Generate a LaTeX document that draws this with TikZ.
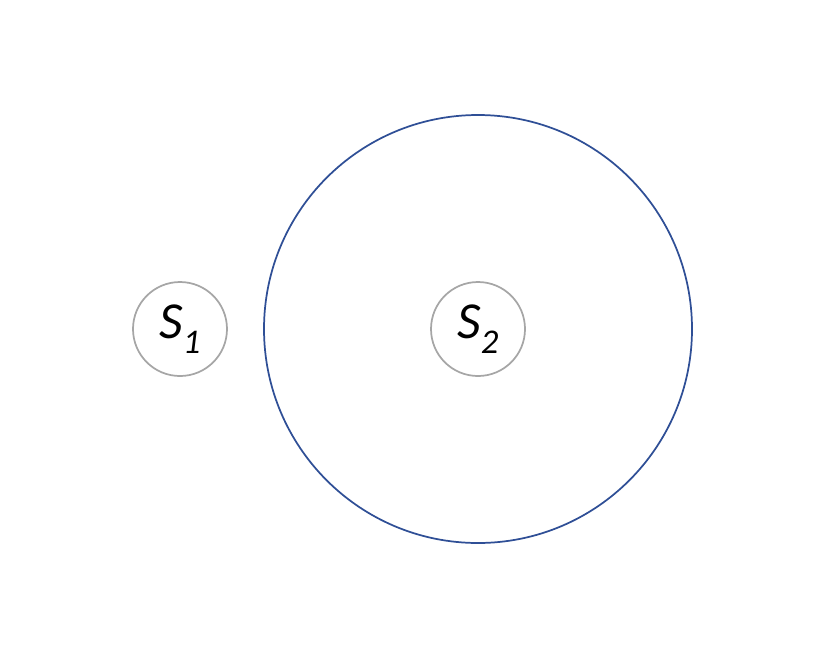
\documentclass[tikz,border=0pt]{standalone}
\usepackage{fontspec}
\setmainfont{Carlito}
\usepackage{tikz}
\usetikzlibrary{calc}

\definecolor{siteGray}{HTML}{A6A6A6}
\definecolor{orbitBlue}{HTML}{2F4F96}
\tikzset{
	site/.style={circle, draw=siteGray, line width=1.3pt, minimum size=70.5pt, inner sep=0pt,
		font=\fontsize{39}{42}\selectfont\itshape},
	orbit/.style={circle, draw=orbitBlue, line width=1.3pt, minimum size=321pt, inner sep=0pt}
}

\newcommand{\lab}[2]{#1\raisebox{-0.3em}{\fontsize{26}{28}\selectfont #2}}

\begin{document}
\begin{tikzpicture}[x=0.75pt, y=-0.75pt]
	
	% ----- canvas
	\useasboundingbox (0,0) rectangle (830,668);
	
	% ----- big circle round S2
	\node[orbit] (outer) at (478,329) {};
	
	% ----- the two small circles
	\node[site] (s1) at (180,329) {\lab{S}{1}};
	\node[site] (s2) at (478,329) {\lab{S}{2}};
	
\end{tikzpicture}
\end{document}
